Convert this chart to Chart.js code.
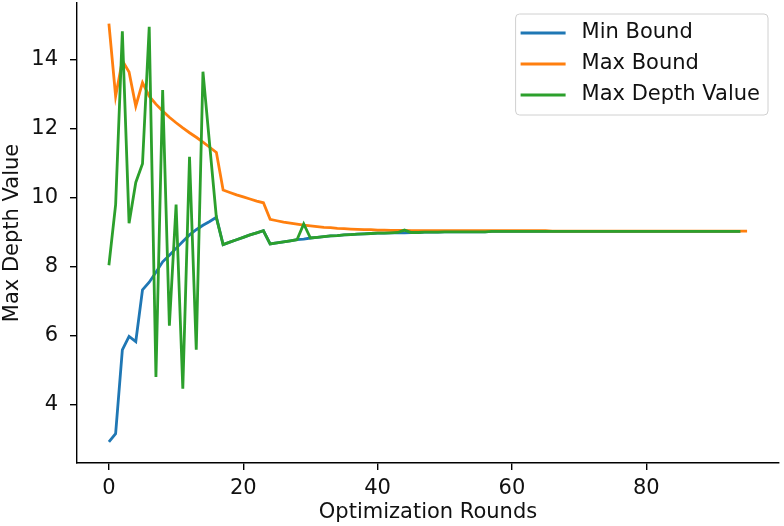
<!DOCTYPE html>
<html>
<head>
<meta charset="utf-8">
<script src="https://cdn.jsdelivr.net/npm/chart.js@4.4.1/dist/chart.umd.min.js"></script>
<style>
  html, body { margin: 0; padding: 0; background: #fff; }
  #wrap { width: 784px; height: 526px; position: relative; }
</style>
</head>
<body>
<div id="wrap"><canvas id="chart"></canvas></div>
<script>
// Optimization round index (x values)
const rounds = Array.from({ length: 96 }, (_, i) => i);

const minBound = [
  2.93, 3.17, 5.60, 5.99, 5.84, 7.34, 7.56, 7.85, 8.15, 8.34,
  8.54, 8.74, 8.93, 9.08, 9.21, 9.32, 9.44, 8.65, 8.72, 8.79,
  8.86, 8.93, 8.99, 9.05, 8.67, 8.70, 8.73, 8.76, 8.79, 8.81,
  8.84, 8.86, 8.88, 8.90, 8.91, 8.93, 8.94, 8.95, 8.96, 8.97,
  8.98, 8.98, 8.99, 9.00, 8.99, 9.00, 9.00, 9.01, 9.01, 9.01,
  9.02, 9.02, 9.02, 9.02, 9.02, 9.02, 9.02, 9.03, 9.03, 9.03,
  9.03, 9.03, 9.03, 9.03, 9.03, 9.03, 9.03, 9.03, 9.03, 9.03,
  9.03, 9.03, 9.03, 9.03, 9.03, 9.03, 9.03, 9.03, 9.03, 9.03,
  9.03, 9.03, 9.03, 9.03, 9.03, 9.03, 9.03, 9.03, 9.03, 9.03,
  9.03, 9.03, 9.03, 9.03, 9.03
];

const maxBound = [
  15.05, 12.95, 13.98, 13.65, 12.66, 13.34, 12.95, 12.72, 12.52, 12.34,
  12.18, 12.03, 11.89, 11.76, 11.62, 11.47, 11.32, 10.23, 10.16, 10.09,
  10.03, 9.97, 9.91, 9.86, 9.38, 9.34, 9.30, 9.27, 9.24, 9.21,
  9.19, 9.17, 9.15, 9.14, 9.12, 9.11, 9.10, 9.09, 9.08, 9.08,
  9.07, 9.07, 9.06, 9.06, 9.06, 9.05, 9.05, 9.05, 9.05, 9.05,
  9.05, 9.05, 9.05, 9.05, 9.05, 9.05, 9.05, 9.05, 9.05, 9.05,
  9.05, 9.05, 9.05, 9.05, 9.05, 9.05, 9.04, 9.04, 9.04, 9.04,
  9.04, 9.04, 9.04, 9.04, 9.04, 9.04, 9.04, 9.04, 9.04, 9.04,
  9.04, 9.04, 9.04, 9.04, 9.04, 9.04, 9.04, 9.04, 9.04, 9.04,
  9.04, 9.04, 9.04, 9.04, 9.04, 9.04
];

const maxDepthValue = [
  8.05, 9.81, 14.83, 9.27, 10.45, 10.99, 14.96, 4.81, 13.13, 6.30,
  9.81, 4.47, 11.19, 5.60, 13.66, 11.54, 9.43, 8.65, 8.72, 8.79,
  8.86, 8.93, 8.99, 9.05, 8.67, 8.70, 8.73, 8.76, 8.79, 9.25,
  8.84, 8.86, 8.88, 8.90, 8.91, 8.93, 8.94, 8.95, 8.96, 8.97,
  8.98, 8.98, 8.99, 9.00, 9.07, 9.00, 9.00, 9.01, 9.01, 9.01,
  9.02, 9.02, 9.02, 9.02, 9.02, 9.02, 9.02, 9.03, 9.03, 9.03,
  9.03, 9.03, 9.03, 9.03, 9.03, 9.03, 9.03, 9.03, 9.03, 9.03,
  9.03, 9.03, 9.03, 9.03, 9.03, 9.03, 9.03, 9.03, 9.03, 9.03,
  9.03, 9.03, 9.03, 9.03, 9.03, 9.03, 9.03, 9.03, 9.03, 9.03,
  9.03, 9.03, 9.03, 9.03, 9.03
];

const xTicks = [0, 20, 40, 60, 80];
const yTicks = [4, 6, 8, 10, 12, 14];

const FONT = "'DejaVu Sans', sans-serif";
const FONT_SIZE = 21;
const TEXT = '#111';

const toPoints = (ys) => ys.map((y, i) => ({ x: rounds[i], y }));

// legend drawn inside the plot, top right (matplotlib style)
const insideLegend = {
  id: 'insideLegend',
  afterDraw(chart) {
    const { ctx, chartArea } = chart;
    const sets = chart.data.datasets;
    ctx.save();
    ctx.font = FONT_SIZE + 'px ' + FONT;
    const textW = Math.max(...sets.map(d => ctx.measureText(d.label).width));
    const lineLen = 45, gap = 16, padL = 5, padR = 8, rowH = 31;
    const w = padL + lineLen + gap + textW + padR;
    const h = rowH * sets.length + 8;
    const x = chartArea.right - 11 - w;
    const y = chartArea.top + 11;

    ctx.beginPath();
    ctx.roundRect(x, y, w, h, 4);
    ctx.fillStyle = 'rgba(255,255,255,0.8)';
    ctx.fill();
    ctx.strokeStyle = '#d0d0d0';
    ctx.lineWidth = 1;
    ctx.stroke();

    sets.forEach((d, i) => {
      const cy = y + 19 + i * rowH;
      ctx.beginPath();
      ctx.moveTo(x + padL, cy);
      ctx.lineTo(x + padL + lineLen, cy);
      ctx.strokeStyle = d.borderColor;
      ctx.lineWidth = 3;
      ctx.stroke();
      ctx.fillStyle = TEXT;
      ctx.textBaseline = 'middle';
      ctx.textAlign = 'left';
      ctx.fillText(d.label, x + padL + lineLen + gap, cy);
    });
    ctx.restore();
  }
};

const noPad = (s) => { s.paddingTop = 0; s.paddingBottom = 0; s.paddingLeft = 0; s.paddingRight = 0; };

const ctx = document.getElementById('chart').getContext('2d');
new Chart(ctx, {
  type: 'line',
  data: {
    datasets: [
      { label: 'Min Bound', data: toPoints(minBound), borderColor: '#1f77b4', order: 3 },
      { label: 'Max Bound', data: toPoints(maxBound), borderColor: '#ff7f0e', order: 2 },
      { label: 'Max Depth Value', data: toPoints(maxDepthValue), borderColor: '#2ca02c', order: 1 }
    ]
  },
  options: {
    responsive: true,
    maintainAspectRatio: false,
    animation: false,
    elements: {
      line: { borderWidth: 2.8, tension: 0, fill: false, borderCapStyle: 'butt' },
      point: { radius: 0, hoverRadius: 0 }
    },
    layout: { padding: { top: 3, right: 5, left: 0, bottom: 0 } },
    plugins: {
      legend: { display: false },
      tooltip: { enabled: false }
    },
    scales: {
      x: {
        type: 'linear',
        min: -4.75,
        max: 99.75,
        afterBuildTicks: (s) => { s.ticks = xTicks.map(v => ({ value: v })); },
        afterFit: (s) => { s.height = 63; noPad(s); },
        grid: { drawOnChartArea: false, drawTicks: true, tickLength: 7, color: '#000', lineWidth: 1.4 },
        border: { display: true, color: '#000', width: 1.4 },
        ticks: { color: TEXT, font: { family: FONT, size: FONT_SIZE }, padding: 6, maxRotation: 0, callback: v => String(v) },
        title: { display: true, text: 'Optimization Rounds', color: TEXT, font: { family: FONT, size: FONT_SIZE }, padding: { top: 0, bottom: 1 } }
      },
      y: {
        type: 'linear',
        min: 2.32,
        max: 15.65,
        afterBuildTicks: (s) => { s.ticks = yTicks.map(v => ({ value: v })); },
        afterFit: (s) => { s.width = 77; noPad(s); },
        grid: { drawOnChartArea: false, drawTicks: true, tickLength: 7, color: '#000', lineWidth: 1.4 },
        border: { display: true, color: '#000', width: 1.4 },
        ticks: { color: TEXT, font: { family: FONT, size: FONT_SIZE }, padding: 12, callback: v => String(v) },
        title: { display: true, text: 'Max Depth Value', color: TEXT, font: { family: FONT, size: FONT_SIZE }, padding: { top: 0, bottom: 0 } }
      }
    }
  },
  plugins: [insideLegend]
});
</script>
</body>
</html>
